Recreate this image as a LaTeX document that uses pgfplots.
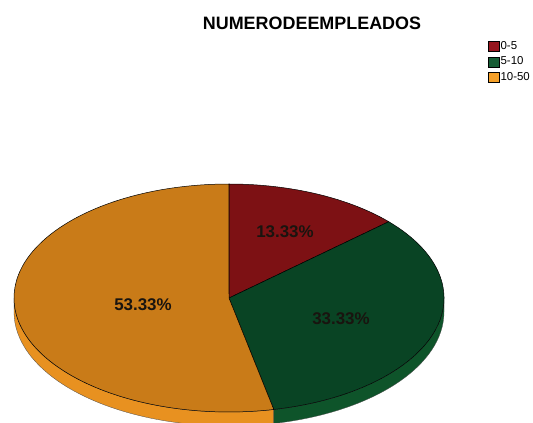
\documentclass[border=0pt]{standalone}
\usepackage{pgfplots}
\pgfplotsset{compat=1.18}
\usepackage{pgfplotstable}
\usepackage{fontspec}
\setmainfont{Liberation Sans}
\definecolor{topred}{RGB}{125,17,20}
\definecolor{topgreen}{RGB}{9,68,36}
\definecolor{toporange}{RGB}{201,123,24}
\definecolor{wallgreen}{RGB}{14,84,42}
\definecolor{wallorange}{RGB}{232,145,32}
\definecolor{legred}{RGB}{150,22,30}
\definecolor{leggreen}{RGB}{22,92,52}
\definecolor{legorange}{RGB}{245,160,40}
\definecolor{labeltext}{RGB}{25,20,15}
\pgfplotstableread{
label value
0-5 13.33
5-10 33.33
10-50 53.33
}\pietable
\begin{document}
\begin{tikzpicture}
\pgfplotstablegetelem{0}{value}\of\pietable \pgfmathsetmacro{\va}{\pgfplotsretval}
\pgfplotstablegetelem{1}{value}\of\pietable \pgfmathsetmacro{\vb}{\pgfplotsretval}
\pgfplotstablegetelem{2}{value}\of\pietable \pgfmathsetmacro{\vc}{\pgfplotsretval}
\pgfmathsetmacro{\aA}{90}
\pgfmathsetmacro{\aB}{90-3.6*\va}
\pgfmathsetmacro{\aC}{\aB-3.6*\vb}
\pgfmathsetmacro{\aD}{\aC-3.6*\vc}
\pgfmathsetmacro{\aCp}{\aC+360}
\begin{axis}[scale only axis, width=533bp, height=423bp,
  xmin=0, xmax=533, ymin=0, ymax=423, hide axis, clip=true,
  legend style={at={(axis description cs:0.9155,0.906)}, anchor=north west,
    draw=none, fill=none, font=\fontsize{11.5}{12}\selectfont,
    row sep=3bp, column sep=0pt, inner sep=0pt,
    nodes={inner sep=1.5bp, text height=8bp, text depth=1.5bp}},
  legend cell align=left]
\addlegendimage{legend image code/.code={\filldraw[fill=legred,draw=black,line width=0.4pt] (0bp,-5bp) rectangle (10.5bp,5bp);}}
\addlegendentry{0-5}
\addlegendimage{legend image code/.code={\filldraw[fill=leggreen,draw=black,line width=0.4pt] (0bp,-5bp) rectangle (10.5bp,5bp);}}
\addlegendentry{5-10}
\addlegendimage{legend image code/.code={\filldraw[fill=legorange,draw=black,line width=0.4pt] (0bp,-5bp) rectangle (10.5bp,5bp);}}
\addlegendentry{10-50}
% side walls
\filldraw[fill=wallorange, draw=black!70, line width=0.3pt] (axis cs:229,125) ++(180:215bp and 114bp)
  arc[start angle=180, end angle=\aCp, x radius=215bp, y radius=114bp] -- ++(0,-14bp)
  arc[start angle=\aCp, end angle=180, x radius=215bp, y radius=114bp] -- cycle;
\filldraw[fill=wallgreen, draw=black!70, line width=0.3pt] (axis cs:229,125) ++(\aCp:215bp and 114bp)
  arc[start angle=\aCp, end angle=360, x radius=215bp, y radius=114bp] -- ++(0,-14bp)
  arc[start angle=360, end angle=\aCp, x radius=215bp, y radius=114bp] -- cycle;
% top faces
\filldraw[fill=topred, draw=black, line width=0.5pt] (axis cs:229,125) -- ++(\aB:215bp and 114bp)
  arc[start angle=\aB, end angle=\aA, x radius=215bp, y radius=114bp] -- cycle;
\filldraw[fill=topgreen, draw=black, line width=0.5pt] (axis cs:229,125) -- ++(\aC:215bp and 114bp)
  arc[start angle=\aC, end angle=\aB, x radius=215bp, y radius=114bp] -- cycle;
\filldraw[fill=toporange, draw=black, line width=0.5pt] (axis cs:229,125) -- ++(\aD:215bp and 114bp)
  arc[start angle=\aD, end angle=\aC, x radius=215bp, y radius=114bp] -- cycle;
% labels
\node[font=\bfseries\fontsize{17}{20}\selectfont, text=labeltext] at (axis cs:285,191) {13.33\%};
\node[font=\bfseries\fontsize{17}{20}\selectfont, text=labeltext] at (axis cs:341,104) {33.33\%};
\node[font=\bfseries\fontsize{17}{20}\selectfont, text=labeltext] at (axis cs:143,118) {53.33\%};
\node[font=\bfseries\fontsize{18}{20}\selectfont] at (axis cs:312,400) {NUMERODEEMPLEADOS};
\end{axis}
\pgfresetboundingbox
\useasboundingbox (current axis.south west) rectangle (current axis.north east);
\end{tikzpicture}
\end{document}
